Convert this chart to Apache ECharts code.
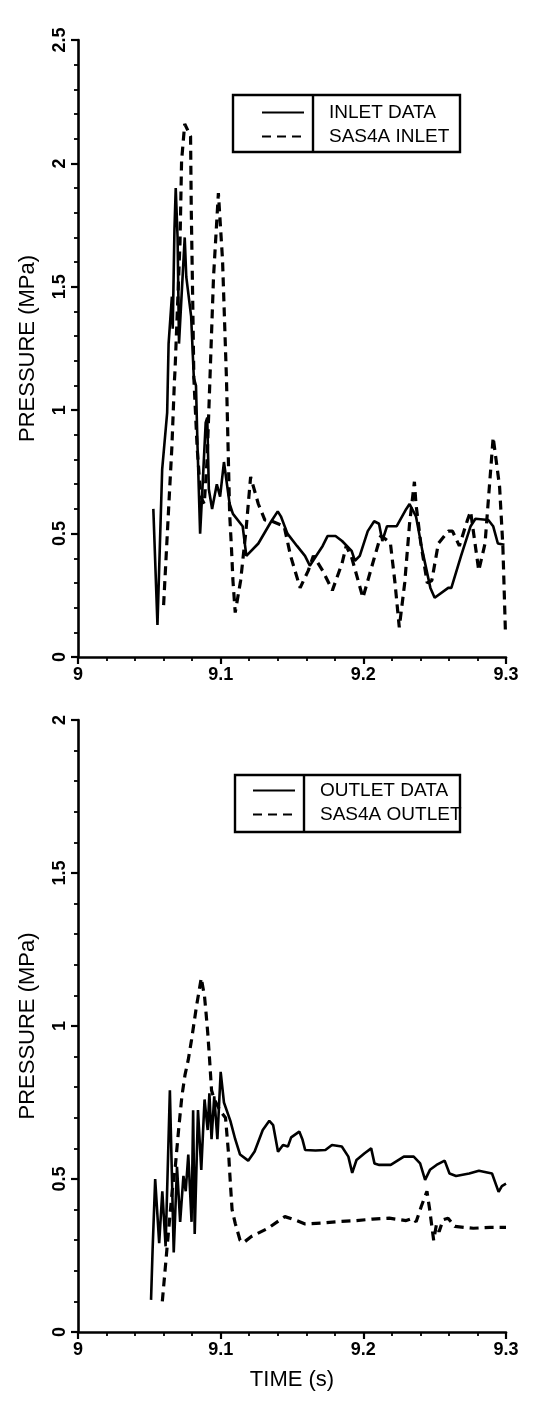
<!DOCTYPE html>
<html>
<head>
<meta charset="utf-8">
<script src="https://cdn.jsdelivr.net/npm/echarts@6/dist/echarts.min.js"></script>
<style>
html,body{margin:0;padding:0;background:#fff;}
#c{width:549px;height:1401px;}
</style>
</head>
<body>
<div id="c"></div>
<script>
// ---- data (time s, pressure MPa) ----
const xTicks = [9, 9.1, 9.2, 9.3];
const topYTicks = [0, 0.5, 1, 1.5, 2, 2.5];
const botYTicks = [0, 0.5, 1, 1.5, 2];

const inletData = [
[9.0528,0.60],[9.0557,0.13],[9.0590,0.76],[9.0625,0.99],[9.0635,1.27],[9.0658,1.46],[9.0664,1.33],[9.0676,1.73],[9.0685,1.90],
[9.0698,1.70],[9.0708,1.27],[9.0748,1.70],[9.0759,1.54],[9.0793,1.38],[9.0812,1.13],[9.0827,1.10],[9.0838,0.85],[9.0856,0.50],
[9.0872,0.68],[9.0895,0.95],[9.0906,0.97],[9.0917,0.68],[9.0940,0.60],[9.0973,0.70],[9.0996,0.65],[9.1023,0.79],[9.1063,0.62],
[9.1086,0.58],[9.1154,0.53],[9.1180,0.41],[9.1264,0.46],[9.1355,0.55],[9.1400,0.59],[9.1422,0.57],[9.1468,0.50],[9.1535,0.45],
[9.1591,0.41],[9.1625,0.37],[9.1670,0.41],[9.1715,0.45],[9.1749,0.49],[9.1805,0.49],[9.1851,0.47],[9.1918,0.43],[9.1941,0.39],
[9.1975,0.41],[9.2031,0.51],[9.2076,0.55],[9.2110,0.54],[9.2133,0.47],[9.2166,0.53],[9.2234,0.53],[9.2301,0.60],[9.2324,0.62],
[9.2369,0.57],[9.2414,0.43],[9.2470,0.28],[9.2500,0.24],[9.2595,0.28],[9.2617,0.28],[9.2685,0.41],[9.2752,0.53],[9.2786,0.56],
[9.2876,0.555],[9.2910,0.53],[9.2943,0.46],[9.2989,0.455]
];

const sasInlet = [
[9.0600,0.21],[9.0636,0.61],[9.0658,0.85],[9.0676,1.12],[9.0680,1.16],[9.0715,1.68],[9.0726,2.01],[9.0748,2.16],[9.0789,2.11],
[9.0794,1.81],[9.0805,1.41],[9.0812,1.13],[9.0835,0.85],[9.0860,0.65],[9.0885,0.62],[9.0905,0.80],[9.0925,1.13],[9.0950,1.54],
[9.0984,1.88],[9.1013,1.61],[9.1041,1.12],[9.1052,0.85],[9.1063,0.58],[9.1075,0.45],[9.1086,0.31],[9.1102,0.18],[9.1140,0.31],
[9.1177,0.51],[9.1210,0.73],[9.1264,0.62],[9.1310,0.555],[9.1360,0.55],[9.1445,0.53],[9.1490,0.41],[9.1557,0.28],[9.1614,0.35],
[9.1650,0.41],[9.1715,0.35],[9.1783,0.27],[9.1851,0.38],[9.1880,0.45],[9.1920,0.40],[9.1997,0.24],[9.2076,0.40],[9.2121,0.49],
[9.2150,0.48],[9.2190,0.46],[9.2222,0.30],[9.2252,0.12],[9.2290,0.30],[9.2324,0.54],[9.2358,0.71],[9.2369,0.62],[9.2403,0.46],
[9.2448,0.30],[9.2480,0.31],[9.2526,0.46],[9.2595,0.51],[9.2625,0.51],[9.2673,0.45],[9.2730,0.555],[9.2752,0.59],[9.2809,0.35],
[9.2853,0.46],[9.2910,0.89],[9.2955,0.69],[9.2978,0.45],[9.2996,0.10]
];

const outletData = [
[9.0512,0.105],[9.0523,0.27],[9.0541,0.50],[9.0569,0.29],[9.0591,0.46],[9.0614,0.28],[9.0644,0.79],[9.0671,0.26],[9.0694,0.54],
[9.0716,0.36],[9.0739,0.51],[9.0755,0.46],[9.0773,0.58],[9.0796,0.36],[9.0807,0.725],[9.0818,0.32],[9.0841,0.725],[9.0864,0.53],
[9.0887,0.76],[9.0909,0.66],[9.0921,0.78],[9.0936,0.63],[9.0955,0.77],[9.0977,0.63],[9.1000,0.85],[9.1023,0.75],[9.1068,0.69],
[9.1102,0.63],[9.1136,0.58],[9.1193,0.56],[9.1238,0.59],[9.1295,0.66],[9.1341,0.69],[9.1368,0.676],[9.1402,0.589],[9.1437,0.611],
[9.1471,0.606],[9.1494,0.636],[9.1551,0.655],[9.1574,0.628],[9.1592,0.595],[9.1665,0.593],[9.1734,0.595],[9.1780,0.611],
[9.1849,0.606],[9.1895,0.573],[9.1922,0.520],[9.1952,0.562],[9.2009,0.584],[9.2055,0.600],[9.2078,0.551],[9.2112,0.546],
[9.2192,0.546],[9.2284,0.573],[9.2353,0.573],[9.2398,0.551],[9.2433,0.497],[9.2467,0.530],[9.2513,0.546],[9.2570,0.560],
[9.2604,0.518],[9.2650,0.510],[9.2742,0.518],[9.2810,0.527],[9.2902,0.518],[9.2948,0.458],[9.2971,0.477],[9.3000,0.485]
];

const sasOutlet = [
[9.0591,0.10],[9.0610,0.20],[9.0625,0.28],[9.0660,0.46],[9.0682,0.54],[9.0705,0.66],[9.0728,0.77],[9.0750,0.84],[9.0773,0.89],
[9.0796,0.955],[9.0830,1.063],[9.0864,1.157],[9.0887,1.096],[9.0898,1.04],[9.0909,0.98],[9.0921,0.90],[9.0936,0.79],[9.0955,0.76],
[9.1000,0.72],[9.1034,0.70],[9.1057,0.573],[9.1068,0.486],[9.1080,0.40],[9.1102,0.355],[9.1136,0.30],[9.1160,0.292],[9.1215,0.312],
[9.1332,0.339],[9.1450,0.377],[9.1521,0.366],[9.1592,0.353],[9.1710,0.356],[9.1828,0.361],[9.1946,0.364],[9.2064,0.369],
[9.2182,0.372],[9.2300,0.364],[9.2347,0.372],[9.2370,0.360],[9.2406,0.41],[9.2446,0.46],[9.2465,0.40],[9.2493,0.30],[9.2512,0.35],
[9.2531,0.328],[9.2559,0.367],[9.2594,0.372],[9.2642,0.345],[9.2771,0.339],[9.2889,0.342],[9.3000,0.342]
];

// ---- chart ----
const FONT = '"Liberation Sans", Arial, sans-serif';
const chart = echarts.init(document.getElementById('c'), null, {renderer:'canvas'});

function xAxis(gi, withName){
  return {
    type:'value', gridIndex:gi, min:xTicks[0], max:xTicks[xTicks.length-1], interval:0.1,
    name: withName ? 'TIME (s)' : '', nameLocation:'middle', nameGap:37,
    nameTextStyle:{fontFamily:FONT, fontSize:22, color:'#000'},
    axisLine:{show:true, onZero:false, lineStyle:{color:'#000', width:2.6}},
    axisTick:{show:true, inside:false, length:7, lineStyle:{color:'#000', width:2.2}},
    minorTick:{show:true, splitNumber:5, length:4, lineStyle:{color:'#000', width:1.8}},
    splitLine:{show:false},
    axisLabel:{fontFamily:FONT, fontSize:18, fontWeight:'bold', color:'#000', margin:9,
      formatter:v=>String(Math.round(v*10)/10)}
  };
}
function yAxis(gi, ticks){
  return {
    type:'value', gridIndex:gi, min:ticks[0], max:ticks[ticks.length-1], interval:0.5,
    name:'PRESSURE (MPa)', nameLocation:'middle', nameGap:39, nameRotate:90,
    nameTextStyle:{fontFamily:FONT, fontSize:22, color:'#000'},
    axisLine:{show:true, onZero:false, lineStyle:{color:'#000', width:2.6}},
    axisTick:{show:true, inside:false, length:7, lineStyle:{color:'#000', width:2.2}},
    minorTick:{show:true, splitNumber:5, length:4, lineStyle:{color:'#000', width:1.8}},
    splitLine:{show:false},
    axisLabel:{fontFamily:FONT, fontSize:18, fontWeight:'bold', color:'#000', margin:9, rotate:90,
      formatter:v=>String(Math.round(v*10)/10)}
  };
}
const solidStyle = {color:'#000', width:2.6, type:'solid'};
const dashStyle = {color:'#000', width:3.2, type:[9,6]};
function line(name, data, gi, style){
  return {type:'line', name, data, xAxisIndex:gi, yAxisIndex:gi, symbol:'none', showSymbol:false,
    lineStyle:style, itemStyle:{color:'#000'}, animation:false, z:3};
}
function legend(names, left, top){
  return {
    data:names, orient:'vertical', left, top, itemWidth:42, itemHeight:14, itemGap:5,
    selectedMode:false,
    itemStyle:{opacity:0, color:'transparent', borderWidth:0},
    textStyle:{fontFamily:FONT, fontSize:19, color:'#000', lineHeight:18, padding:[0,0,0,20]}
  };
}

chart.setOption({
  backgroundColor:'#fff',
  animation:false,
  grid:[
    {left:78, width:428, top:40, height:617},
    {left:78, width:428, top:720, height:612}
  ],
  xAxis:[xAxis(0,false), xAxis(1,true)],
  yAxis:[yAxis(0, topYTicks), yAxis(1, botYTicks)],
  legend:[
    legend(['INLET DATA','SAS4A INLET'], 256, 98),
    legend(['OUTLET DATA','SAS4A OUTLET'], 247, 776)
  ],
  graphic:[
    {type:'rect', shape:{x:233, y:95, width:227, height:57}, style:{fill:'none', stroke:'#000', lineWidth:2.4}},
    {type:'line', shape:{x1:313, y1:95, x2:313, y2:152}, style:{stroke:'#000', lineWidth:2.4}},
    {type:'rect', shape:{x:235, y:775, width:225, height:57}, style:{fill:'none', stroke:'#000', lineWidth:2.4}},
    {type:'line', shape:{x1:304, y1:775, x2:304, y2:832}, style:{stroke:'#000', lineWidth:2.4}}
  ],
  series:[
    line('INLET DATA', inletData, 0, solidStyle),
    line('SAS4A INLET', sasInlet, 0, dashStyle),
    line('OUTLET DATA', outletData, 1, solidStyle),
    line('SAS4A OUTLET', sasOutlet, 1, dashStyle)
  ]
});
</script>
</body>
</html>
